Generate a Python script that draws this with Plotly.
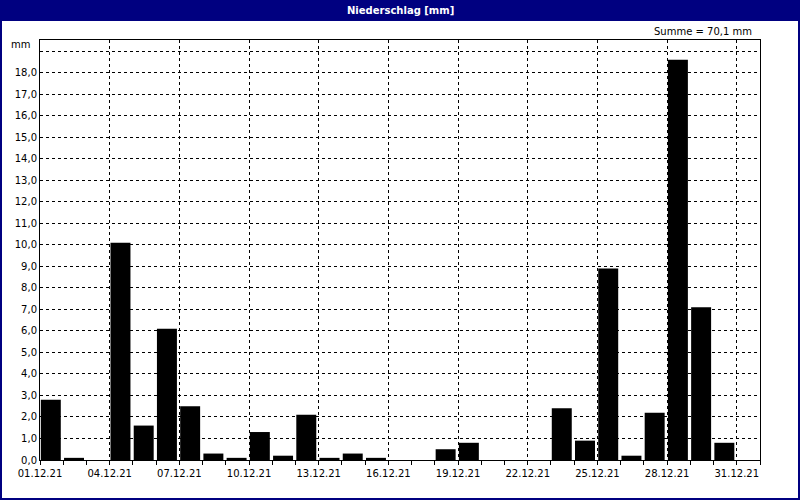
import plotly.graph_objects as go

# Tagesniederschlag Dezember 2021
tage = [f"2021-12-{d:02d}" for d in range(1, 32)]
niederschlag = [
    2.8, 0.1, 0.0, 10.1, 1.6, 6.1, 2.5, 0.3, 0.1, 1.3,
    0.2, 2.1, 0.1, 0.3, 0.1, 0.0, 0.0, 0.5, 0.8, 0.0,
    0.0, 0.0, 2.4, 0.9, 8.9, 0.2, 2.2, 18.6, 7.1, 0.8,
    0.0,
]
y_ticks = list(range(0, 20))
y_labels = [f"{v},0" if v <= 18 else "" for v in y_ticks]

TAG_MS = 86400000
L, R, T, B = 40, 40, 40, 40
W, H = 800, 500
PW, PH = W - L - R, H - T - B
NAVY = "#000080"


def px_x(px):
    return (px - L) / PW


def px_y(py):
    return (H - B - py) / PH


summe = f"Summe = {sum(niederschlag):.1f} mm".replace(".", ",")

fig = go.Figure()
fig.add_trace(
    go.Bar(
        x=tage,
        y=niederschlag,
        marker=dict(color="black", line=dict(width=0)),
        offset=0.035 * TAG_MS,
        width=0.86 * TAG_MS,
        hoverinfo="x+y",
    )
)

font = dict(family="DejaVu Sans", size=10, color="black")
fig.update_layout(
    width=W,
    height=H,
    margin=dict(l=L, r=R, t=T, b=B),
    paper_bgcolor="white",
    plot_bgcolor="white",
    showlegend=False,
    font=font,
    xaxis=dict(
        type="date",
        range=["2021-12-01", "2022-01-01"],
        tick0="2021-12-01",
        dtick=3 * TAG_MS,
        tickformat="%d.%m.%y",
        ticks="outside",
        ticklen=4,
        tickcolor="black",
        showline=True,
        linecolor="black",
        linewidth=1,
        mirror=True,
        showgrid=True,
        gridcolor="black",
        gridwidth=1,
        griddash="3px,3px",
        minor=dict(dtick=TAG_MS, tick0="2021-12-01", ticks="outside", ticklen=4, tickcolor="black", showgrid=False),
        zeroline=False,
        fixedrange=True,
    ),
    yaxis=dict(
        range=[0, 19.52],
        tickvals=y_ticks,
        ticktext=y_labels,
        ticks="",
        showline=True,
        linecolor="black",
        linewidth=1,
        mirror=True,
        showgrid=True,
        gridcolor="black",
        gridwidth=1,
        griddash="3px,3px",
        zeroline=False,
        fixedrange=True,
    ),
    shapes=[
        dict(type="rect", xref="paper", yref="paper",
             x0=px_x(0), x1=px_x(W), y0=px_y(21), y1=px_y(0),
             fillcolor=NAVY, line=dict(width=0), layer="above"),
        dict(type="rect", xref="paper", yref="paper",
             x0=px_x(1), x1=px_x(W - 1), y0=px_y(H - 1), y1=px_y(1),
             fillcolor="rgba(0,0,0,0)", line=dict(color=NAVY, width=2), layer="above"),
    ],
    annotations=[
        dict(text="<b>Niederschlag [mm]</b>", xref="paper", yref="paper",
             x=0.5, y=px_y(10), xanchor="center", yanchor="middle",
             showarrow=False, font=dict(family="DejaVu Sans", size=10, color="white")),
        dict(text=summe, xref="paper", yref="paper",
             x=px_x(754), y=px_y(31), xanchor="right", yanchor="middle",
             showarrow=False, font=font),
        dict(text="mm", xref="paper", yref="paper",
             x=px_x(32), y=px_y(45), xanchor="right", yanchor="middle",
             showarrow=False, font=font),
    ],
)

# Seitenrand des Browsers entfernen, damit die Grafik bei 0/0 beginnt
fig.write_html(
    "out.html",
    config={"displayModeBar": False},
    post_script="document.body.style.margin='0';",
)
